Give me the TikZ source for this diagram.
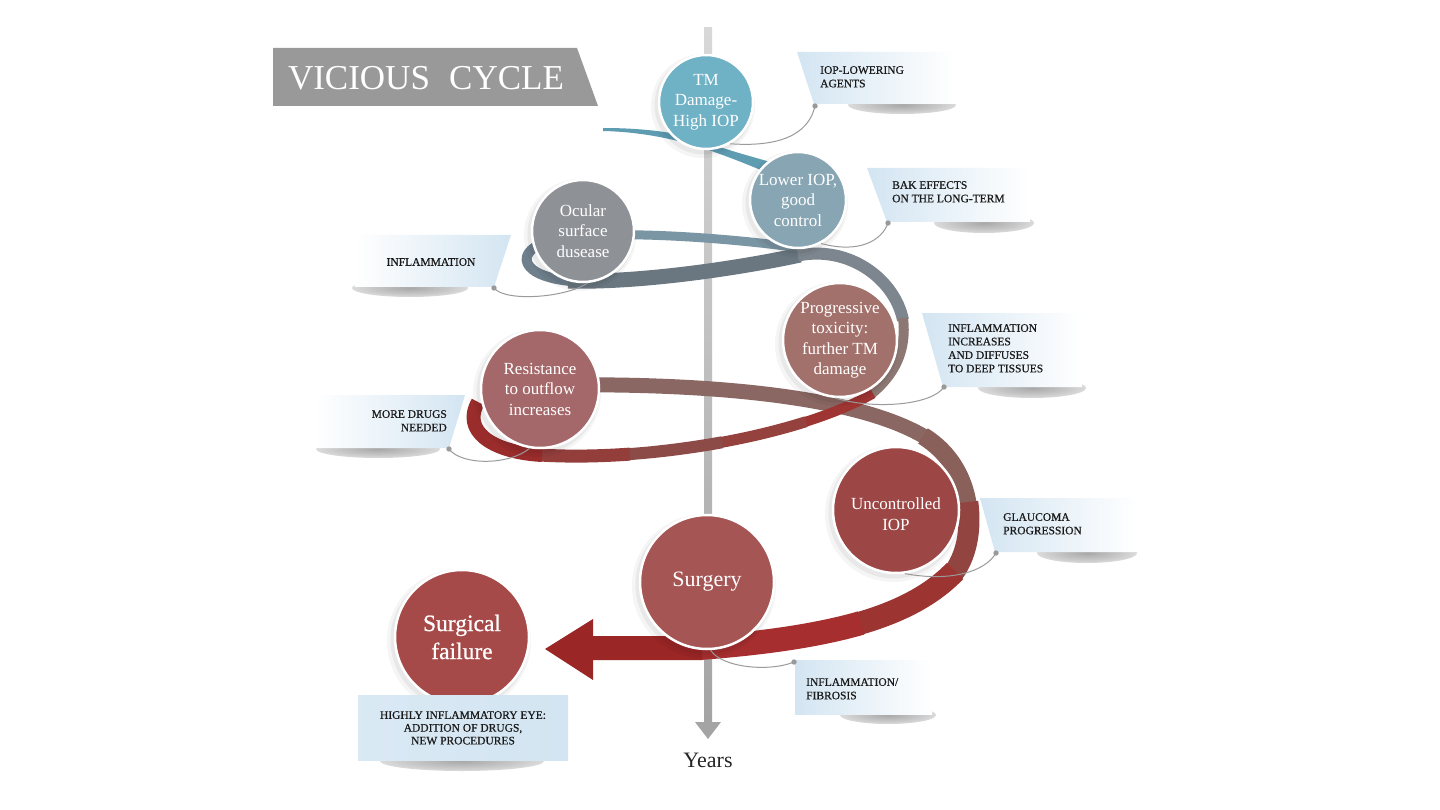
\documentclass[tikz,border=0pt]{standalone}
\usepackage{fontspec}
\setmainfont{Liberation Serif}
\newfontfamily\lblfont{Liberation Serif}[FakeBold=0.6]
\newfontfamily\failfont{Liberation Serif}[FakeBold=0.7]
\usetikzlibrary{arrows.meta}
\definecolor{axlight}{HTML}{D8D8D8}
\definecolor{axdark}{HTML}{A4A4A4}
\definecolor{rA}{HTML}{5E9CB2}
\definecolor{rB}{HTML}{7A95A3}
\definecolor{rC}{HTML}{6F808C}
\definecolor{rD}{HTML}{6A7781}
\definecolor{rE}{HTML}{7D868E}
\definecolor{rF}{HTML}{8C7773}
\definecolor{rGa}{HTML}{9E3533}
\definecolor{rGb}{HTML}{95413D}
\definecolor{rGc}{HTML}{8D4B47}
\definecolor{rGd}{HTML}{933E3B}
\definecolor{rH}{HTML}{9A2C2C}
\definecolor{rI}{HTML}{8A6762}
\definecolor{rJa}{HTML}{8A605B}
\definecolor{rJb}{HTML}{924540}
\definecolor{rKa}{HTML}{9C3432}
\definecolor{rKb}{HTML}{A62E2E}
\definecolor{rArrow}{HTML}{9B2626}
\definecolor{cTM}{HTML}{6FB1C5}
\definecolor{cLow}{HTML}{87A5B2}
\definecolor{cOcu}{HTML}{8E9196}
\definecolor{cProg}{HTML}{A3716B}
\definecolor{cRes}{HTML}{A5686A}
\definecolor{cUnc}{HTML}{9C4745}
\definecolor{cSurg}{HTML}{A65555}
\definecolor{cFail}{HTML}{A64949}
\definecolor{boxblue}{HTML}{D3E5F2}
\definecolor{titlegray}{HTML}{999999}
\definecolor{conncol}{HTML}{9A9A9A}
\definecolor{labeltext}{HTML}{1A1A1A}
\pgfdeclareradialshading{softshadow}{\pgfpoint{0bp}{0bp}}{color(0bp)=(black!34); color(16bp)=(black!22); color(34bp)=(black!6); color(50bp)=(white)}
\newcommand{\circshadow}[3]{%
  \fill[black,opacity=.04] (#1-3,#2+4) circle (#3+5);
  \fill[black,opacity=.05] (#1-2,#2+3) circle (#3+2.5);}
\tikzset{
  circ/.style={circle, inner sep=0pt, draw=white, line width=2.5pt, text=white, align=center, font=\fontsize{17}{20.5}\selectfont},
  ctext/.style={inner sep=0pt, text=white, align=center, font=\fontsize{17}{20.5}\selectfont},
  lbl/.style={inner sep=0pt, text=labeltext, font=\lblfont\fontsize{11.5}{13.5}\selectfont},
  conn/.style={draw=conncol, line width=1pt},
  dotc/.style={fill=conncol},
  rib/.style={line cap=butt, line join=round},
  boxR/.style={left color=boxblue, right color=white},
  boxL/.style={left color=white, right color=boxblue},
  shadowblob/.style={shading=softshadow},
}
\begin{document}
\begin{tikzpicture}[x=1pt,y=-1pt]
\useasboundingbox (0,0) rectangle (1440,810);
\fill[white] (0,0) rectangle (1440,810);

% time axis
\coordinate (axtop) at (708,28);
\coordinate (axend) at (708,722);
\coordinate (axtip) at (708,739);
\shade[top color=axlight, bottom color=axdark] (704,28) rectangle (712,722);
\fill[axdark] (695,722) -- (721,722) -- (axtip) -- cycle;

% ribbon (spiral)
\fill[rA] (603,128) .. controls (650,128) and (690,134) .. (717,146)
  .. controls (740,154) and (765,160) .. (790,168) -- (786,180)
  .. controls (760,170) and (740,161) .. (717,153)
  .. controls (690,143) and (650,132) .. (603,131) -- cycle;
\draw[rib, rB, line width=9pt] (800,248) .. controls (730,238) and (620,230) .. (560,238);
\draw[rib, rC, line width=10pt] (562,238) .. controls (515,245) and (512,275) .. (570,281);
\draw[rib, rD, line width=15pt] (568,281) .. controls (640,283) and (740,268) .. (800,255);
\draw[rib, rE, line width=12pt] (798,255.5) .. controls (850,245) and (895,280) .. (903,320);
\draw[rib, rF, line width=10pt] (903,318) .. controls (907,350) and (895,375) .. (870,395);
\draw[rib, rI, line width=15pt] (560,385) .. controls (720,383) and (860,398) .. (925,437);
\draw[rib, rGa, line width=10pt] (873,393.5) .. controls (853.5,404.5) and (830.5,413.94) .. (804.6,422.1);
\draw[rib, rGb, line width=11pt] (806,421.7) .. controls (778.75,430.275) and (750,437.175) .. (720,442.6);
\draw[rib, rGc, line width=12pt] (722,442.3) .. controls (690,448.05) and (658.75,452.03) .. (628.1,454.2);
\draw[rib, rGd, line width=13pt] (630,454.1) .. controls (597.5,456.375) and (567.5,456.75) .. (540,455);
\draw[rib, rH, line width=14pt] (542,455) .. controls (490,452) and (462,430) .. (478,402);
\draw[rib, rJa, line width=18pt] (923,436) .. controls (950,452.5) and (963.75,478.25) .. (967.75,504.5);
\draw[rib, rJb, line width=21pt] (967.75,502) .. controls (971.75,530.75) and (966,557.5) .. (952,575);
\draw[rib, rKa, line width=23pt] (955,571) .. controls (932.5,594.5) and (901.25,611.25) .. (859.4,623.4);
\draw[rib, rKb, line width=24pt] (861,623) .. controls (817.5,635.5) and (765,643) .. (700,648);
\fill[rArrow] (702,636) -- (593,636) -- (593,619) -- (545,649) -- (593,680) -- (593,660) -- (702,660) -- cycle;

% circle shadows
\circshadow{706}{102}{47}
\circshadow{798}{200}{48}
\circshadow{583}{231}{51}
\circshadow{840}{340}{57}
\circshadow{540}{389}{59}
\circshadow{896}{510}{63}
\circshadow{707}{582}{67}
\circshadow{462}{637}{67}

% circles
\node[circ, fill=cTM, minimum size=94pt] (tm) at (706,102) {TM\\Damage-\\High IOP};
\node[circ, fill=cLow, minimum size=96pt] (low) at (798,200) {Lower IOP,\\good\\control};
\node[circ, fill=cOcu, minimum size=102pt] (ocu) at (583,231) {Ocular\\surface\\dusease};
\node[circ, fill=cProg, minimum size=114pt] (prog) at (840,340) {Progressive\\toxicity:\\further TM\\damage};
\node[circ, fill=cRes, minimum size=118pt] (res) at (540,389) {Resistance\\to outflow\\increases};
\node[circ, fill=cUnc, minimum size=126pt] (unc) at (896,510) {};
\node[ctext] (unctxt) at (896,514) {Uncontrolled\\IOP};
\node[circ, fill=cSurg, minimum size=134pt, font=\fontsize{22}{26}\selectfont] (surg) at (707,582) {Surgery};
\node[circ, fill=cFail, minimum size=134pt, font=\failfont\fontsize{23.5}{28}\selectfont] (fail) at (462,637) {Surgical\\failure};

% callout shadows
\shade[shadowblob] (902,105) ellipse (54 and 9);
\shade[shadowblob] (984,223) ellipse (50 and 10);
\shade[shadowblob] (410,288) ellipse (58 and 9);
\shade[shadowblob] (1032,388) ellipse (54 and 10);
\shade[shadowblob] (378,449) ellipse (62 and 9);
\shade[shadowblob] (1087,553) ellipse (50 and 10);
\shade[shadowblob] (888,715) ellipse (48 and 9);
\shade[shadowblob] (462,761) ellipse (82 and 10);

% callout boxes
\shade[boxR] (797,52) -- (955,52) -- (955,104) -- (814,104) -- cycle;
\shade[boxR] (867,168) -- (1030,168) -- (1030,222) -- (887,222) -- cycle;
\shade[boxL] (355,235) -- (511,235) -- (494,287) -- (355,287) -- cycle;
\shade[boxR] (922,313) -- (1082,313) -- (1082,387) -- (943,387) -- cycle;
\shade[boxL] (315,395) -- (465,395) -- (449,448) -- (315,448) -- cycle;
\shade[boxR] (980,498) -- (1137,498) -- (1137,552) -- (995,552) -- cycle;
\shade[boxR] (795,660) -- (932,660) -- (932,714) -- (795,714) -- cycle;
\shade[left color=boxblue!85, right color=boxblue] (358,695) rectangle (568,760);

% connectors
\coordinate (d1) at (815,106);
\coordinate (d2) at (888,223);
\coordinate (d3) at (494,288);
\coordinate (d4) at (944,387);
\coordinate (d5) at (449,449);
\coordinate (d6) at (996,553);
\coordinate (d7) at (794,662);
\draw[conn] (tm.-60) .. controls (790,148) and (810,128) .. (d1);
\draw[conn] (low.-62) .. controls (860,254) and (882,240) .. (d2);
\draw[conn] (d3) .. controls (505,302) and (565,298) .. (ocu.-85);
\draw[conn] (prog.-95) .. controls (875,410) and (932,405) .. (d4);
\draw[conn] (d5) .. controls (462,466) and (510,465) .. (res.-100);
\draw[conn] (unc.-82) .. controls (950,582) and (985,572) .. (d6);
\draw[conn] (surg.-87) .. controls (722,668) and (770,672) .. (d7);
\foreach \d in {d1,d2,d3,d4,d5,d6,d7} \fill[dotc] (\d) circle (2.7);

% callout texts
\node[lbl, anchor=north west, align=left] (t1) at (820,66) {IOP-LOWERING\\AGENTS};
\node[lbl, anchor=north west, align=left] (t2) at (892,181) {BAK EFFECTS\\ON THE LONG-TERM};
\node[lbl] (t3) at (431,262) {INFLAMMATION};
\node[lbl, anchor=north west, align=left] (t4) at (948,324) {INFLAMMATION\\INCREASES\\AND DIFFUSES\\TO DEEP TISSUES};
\node[lbl, anchor=north east, align=right] (t5) at (447,410) {MORE DRUGS\\NEEDED};
\node[lbl, anchor=north west, align=left] (t6) at (1003,513) {GLAUCOMA\\PROGRESSION};
\node[lbl, anchor=north west, align=left] (t7) at (806,678) {INFLAMMATION/\\FIBROSIS};
\node[lbl, anchor=north, align=center, font=\lblfont\fontsize{11.5}{12.8}\selectfont] (t8) at (463,711) {HIGHLY INFLAMMATORY EYE:\\ADDITION OF DRUGS,\\NEW PROCEDURES};

% title
\fill[titlegray] (273,48) -- (577,48) -- (598,106) -- (273,106) -- cycle;
\node[inner sep=0pt, text=white, font=\fontsize{35}{35}\selectfont] (title) at (426,78) {VICIOUS\hspace{0.3em} CYCLE};

% axis label
\node[inner sep=0pt, text=black!85, font=\fontsize{22}{22}\selectfont] (years) at (708,760) {Years};
\end{tikzpicture}
\end{document}
